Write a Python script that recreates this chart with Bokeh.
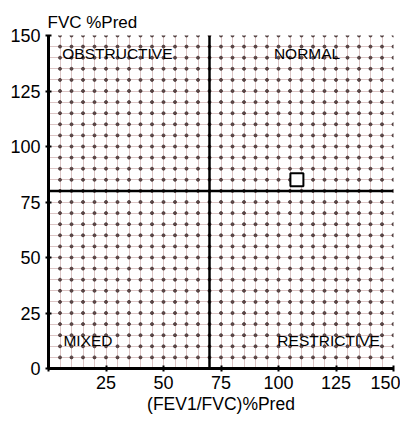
import numpy as np
from bokeh.plotting import figure
from bokeh.models import FixedTicker, Span, Title
from bokeh.embed import file_html
from bokeh.resources import INLINE

# Data
x_ticks = [0, 25, 50, 75, 100, 125, 150]
y_ticks = [0, 25, 50, 75, 100, 125, 150]
fev1_fvc_cutoff = 70
fvc_cutoff = 80
patient_x = [108]
patient_y = [85]
region_names = ["OBSTRUCTIVE", "NORMAL", "MIXED", "RESTRICTIVE"]
region_x = [6, 98, 6.5, 99.5]
region_y = [142, 142, 12.5, 12.5]

p = figure(width=400, height=418, x_range=(0, 150), y_range=(0, 150),
           output_backend="svg", toolbar_location=None,
           min_border_left=48, min_border_right=7, min_border_top=35, min_border_bottom=50)
p.title = Title(text="FVC %Pred", align="left", offset=-1, text_font="Liberation Sans",
                text_font_size="17px", text_font_style="normal", text_color="black",
                standoff=7)
p.outline_line_color = None
p.background_fill_color = "white"

grid_ticks = list(range(0, 151, 5))
p.xgrid.ticker = FixedTicker(ticks=grid_ticks)
p.ygrid.ticker = FixedTicker(ticks=grid_ticks)
for g in (p.xgrid, p.ygrid):
    g.grid_line_color = "#b98c8c"
    g.grid_line_width = 1
    g.grid_line_alpha = 0.5

# intersection dots
gx, gy = np.meshgrid(grid_ticks[1:], grid_ticks[1:])
p.scatter(gx.ravel(), gy.ravel(), size=3, color="#3a2626", alpha=0.75)

for ax, ticks in ((p.xaxis[0], x_ticks), (p.yaxis[0], y_ticks)):
    ax.ticker = FixedTicker(ticks=ticks)
    ax.axis_line_color = "black"
    ax.axis_line_width = 3
    ax.major_tick_line_color = "black"
    ax.major_tick_line_width = 2
    ax.major_tick_in = 3
    ax.major_tick_out = 3
    ax.minor_tick_line_color = None
    ax.major_label_text_font = "Liberation Sans"
    ax.major_label_text_font_size = "18px"
    ax.major_label_text_color = "black"
    ax.axis_label_text_font = "Liberation Sans"
    ax.axis_label_text_font_style = "normal"
    ax.axis_label_text_font_size = "17.5px"
    ax.axis_label_text_color = "black"

p.xaxis.major_label_overrides = {0: ""}
p.xaxis.axis_label = "(FEV1/FVC)%Pred"
p.xaxis.major_label_standoff = 4
p.xaxis.axis_label_standoff = 2
p.yaxis.major_label_standoff = 5

p.add_layout(Span(location=fev1_fvc_cutoff, dimension="height", line_color="black", line_width=2.5))
p.add_layout(Span(location=fvc_cutoff, dimension="width", line_color="black", line_width=2.5))

p.scatter(patient_x, patient_y, marker="square", size=13, fill_color="white",
          line_color="black", line_width=2)

p.text(region_x, region_y, text=region_names, text_font_size="15.5px",
       text_baseline="middle", text_align="left", text_color="black",
       text_font={"value": "Liberation Sans"})

open("out.html", "w").write(file_html(p, INLINE))
